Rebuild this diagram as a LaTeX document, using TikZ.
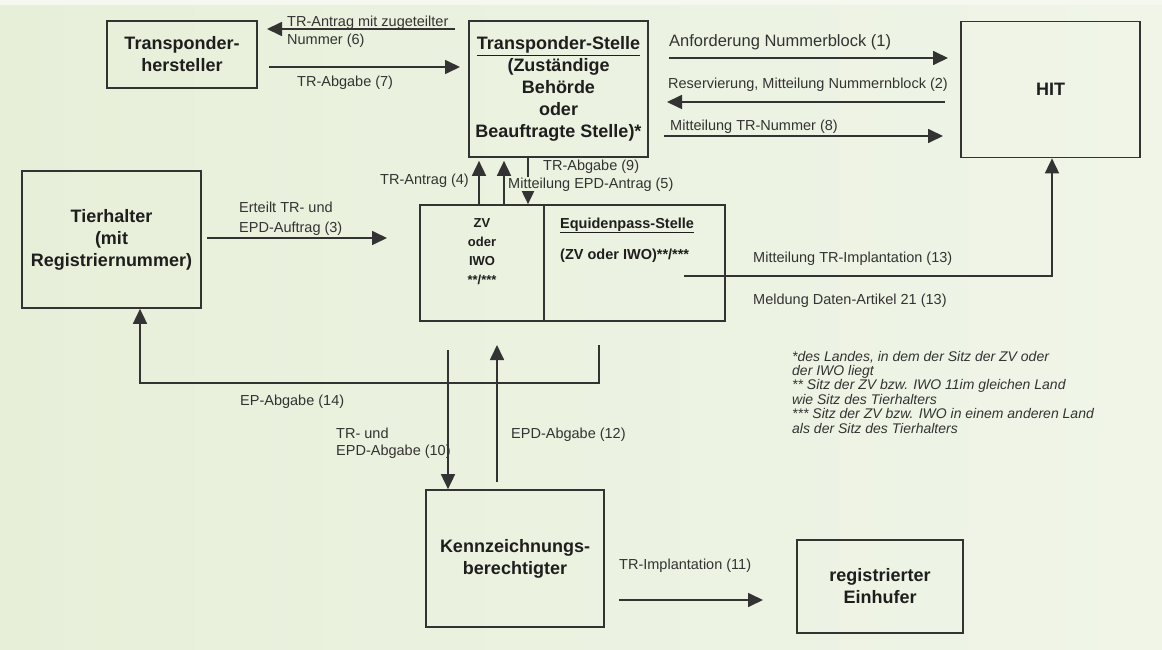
\documentclass[tikz,border=0pt]{standalone}
\usepackage{fontspec}
\setmainfont{Liberation Sans}
\usetikzlibrary{arrows.meta}
\definecolor{bgL}{HTML}{E7EFD9}
\definecolor{bgR}{HTML}{F0F5E8}
\definecolor{bgc}{HTML}{EBF2DF}
\definecolor{bgtop}{HTML}{F5F8EF}
\definecolor{ink}{HTML}{333333}
\definecolor{txt}{HTML}{1E1E1E}
\begin{document}
\begin{tikzpicture}[x=1pt,y=-1pt,
  box/.style={draw=ink, line width=1.7pt, inner sep=0pt, align=center, text=txt,
    font=\fontsize{18}{22}\selectfont\bfseries},
  conn/.style={draw=ink, line width=1.7pt, -{Triangle[length=15pt,width=14pt]}},
  plain/.style={draw=ink, line width=1.7pt},
  lbl/.style={anchor=base west, inner sep=0pt, text=ink, font=\fontsize{14.5}{17}\selectfont},
  blbl/.style={anchor=base west, inner sep=0pt, text=txt, font=\fontsize{14.5}{17}\selectfont\bfseries},
  foot/.style={anchor=base west, inner sep=0pt, text=ink, font=\fontsize{14}{14.4}\selectfont\itshape},
]
\useasboundingbox (0,0) rectangle (1162,650);
\shade[left color=bgL, right color=bgR] (0,0) rectangle (1162,650);
\fill[bgtop] (0,0) rectangle (1162,5);

% boxes
\node[box, minimum width=150pt, minimum height=67pt] (th) at (182,54.5) {Transponder-\\hersteller};
\node[box, minimum width=179pt, minimum height=136pt] (ts) at (558.5,89) {\underline{Transponder-Stelle}\\(Zuständige\\Behörde\\oder\\Beauftragte Stelle)*};
\node[box, minimum width=179pt, minimum height=136pt] (hit) at (1050.5,89.5) {HIT};
\node[box, minimum width=179pt, minimum height=137pt] (tier) at (111.5,239.5) {Tierhalter\\(mit\\Registriernummer)};
\node[box, minimum width=305pt, minimum height=116pt] (zv) at (572.5,263) {};
\node[box, minimum width=178pt, minimum height=137pt] (kz) at (515,558.5) {Kennzeichnungs-\\berechtigter};
\node[box, minimum width=166pt, minimum height=93pt] (re) at (880,586.5) {registrierter\\Einhufer};

% inside ZV box
\coordinate (dv) at (544,263);
\draw[plain] (dv |- zv.north) -- (dv |- zv.south);
\node[inner sep=0pt, align=center, text=txt, font=\fontsize{13}{19}\selectfont\bfseries] (zvl) at (482,251.5) {ZV\\oder\\IWO\\**/***};
\node[blbl] (eq1) at (560,228) {\underline{Equidenpass-Stelle}};
\node[blbl] (eq2) at (560,259) {(ZV oder IWO)**/***};

% coordinates for connector ends
\coordinate (a6s) at (455,29);  \coordinate (a6e) at (267,29);
\coordinate (a7s) at (269,67);  \coordinate (a7e) at (460,67);
\coordinate (a1s) at (669,58);  \coordinate (a1e) at (948,58);
\coordinate (a2s) at (945,102); \coordinate (a2e) at (667,102);
\coordinate (a8s) at (664,136); \coordinate (a8e) at (943,136);
\coordinate (a4x) at (479,0);
\coordinate (a5x) at (504,0);
\coordinate (a9x) at (528,0);
\coordinate (a3s) at (207,238); \coordinate (a3e) at (387,238);
\coordinate (a13s) at (684,276); \coordinate (a13c) at (1052,276);
\coordinate (a14s) at (599,345); \coordinate (a14c1) at (599,383); \coordinate (a14c2) at (140,383);
\coordinate (a10s) at (448,350);
\coordinate (a12s) at (497,482); \coordinate (a12e) at (497,345);
\coordinate (a11s) at (619,600); \coordinate (a11e) at (763,600);

% connectors
\draw[conn] (a6s) -- (a6e);
\draw[conn] (a7s) -- (a7e);
\draw[conn] (a1s) -- (a1e);
\draw[conn] (a2s) -- (a2e);
\draw[conn] (a8s) -- (a8e);
\draw[conn] (a4x |- zv.north) -- ([yshift=-3pt]a4x |- ts.south);
\draw[conn] (a5x |- zv.north) -- ([yshift=-3pt]a5x |- ts.south);
\draw[conn] (a9x |- ts.south) -- (a9x |- zv.north);
\draw[conn] (a3s) -- (a3e);
\draw[conn] (a13s) -- (a13c) -- (a13c |- hit.south);
\draw[conn] (a14s) -- (a14c1) -- (a14c2) -- (a14c2 |- tier.south);
\draw[conn] (a10s) -- (a10s |- kz.north);
\draw[conn] (a12s) -- (a12e);
\draw[conn] (a11s) -- (a11e);

% labels
\node[lbl] (l6a) at (287,27) {TR-Antrag mit zugeteilter};
\node[lbl] (l6b) at (287,45) {Nummer (6)};
\node[lbl] (l7) at (297,87) {TR-Abgabe (7)};
\node[lbl, font=\fontsize{16.5}{19}\selectfont] (l1) at (669,47) {Anforderung Nummerblock (1)};
\node[lbl] (l2) at (668,89) {Reservierung, Mitteilung Nummernblock (2)};
\node[lbl] (l8) at (670,131) {Mitteilung TR-Nummer (8)};
\node[lbl] (l4) at (380,185) {TR-Antrag (4)};
\node[lbl] (l9) at (543,171) {TR-Abgabe (9)};
\node[lbl, fill=bgc] (l5) at (508,188) {Mitteilung EPD-Antrag (5)};
\node[lbl] (l3a) at (239,212) {Erteilt TR- und};
\node[lbl] (l3b) at (239,232) {EPD-Auftrag (3)};
\node[lbl] (l13a) at (753,262) {Mitteilung TR-Implantation (13)};
\node[lbl] (l13b) at (753,304) {Meldung Daten-Artikel 21 (13)};
\node[lbl] (l14) at (240,405) {EP-Abgabe (14)};
\node[lbl] (l10a) at (336,438) {TR- und};
\node[lbl] (l10b) at (336,455) {EPD-Abgabe (10)};
\node[lbl] (l12) at (511,438) {EPD-Abgabe (12)};
\node[lbl] (l11) at (619,569) {TR-Implantation (11)};

% footnotes
\node[foot] (f1) at (792,361) {*des Landes, in dem der Sitz der ZV oder};
\node[foot] (f2) at (792,375.4) {der IWO liegt};
\node[foot] (f3) at (792,389.8) {** Sitz der ZV bzw. IWO 11im gleichen Land};
\node[foot] (f4) at (792,404.2) {wie Sitz des Tierhalters};
\node[foot] (f5) at (792,418.6) {*** Sitz der ZV bzw. IWO in einem anderen Land};
\node[foot] (f6) at (792,433) {als der Sitz des Tierhalters};
\end{tikzpicture}
\end{document}
